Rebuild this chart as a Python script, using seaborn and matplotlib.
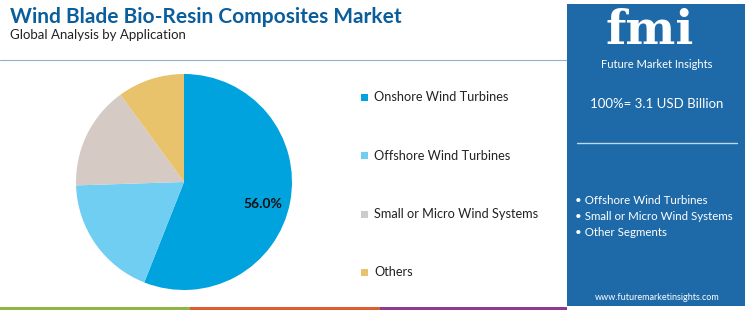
import matplotlib
matplotlib.use('Agg')
import matplotlib.pyplot as plt
import seaborn as sns
from matplotlib.patches import Rectangle

# Data
segments = ['Onshore Wind Turbines', 'Offshore Wind Turbines', 'Small or Micro Wind Systems', 'Others']
shares = [56.0, 18.5, 15.5, 10.0]
pie_colors = ['#00A3DE', '#6FCEF1', '#D6CAC4', '#E8C36C']
legend_colors = ['#00A3DE', '#6FCEF1', '#CCCCCC', '#E8C36C']
side_bullets = ['Offshore Wind Turbines', 'Small or Micro Wind Systems', 'Other Segments']
market_total = '100%= 3.1 USD Billion'
stripe_colors = ['#8DB645', '#DA5E2F', '#8E3A8F']

sns.set_theme(style='white')
plt.rcParams['font.family'] = ['Lato', 'DejaVu Sans']

fig = plt.figure(figsize=(7.5, 3.1), dpi=100)
W, H = 750, 310

def fx(x):
    return x / W

def fy(y):
    return 1 - y / H

# title block
fig.text(fx(10), fy(17), 'Wind Blade Bio-Resin Composites Market', fontsize=15,
         fontweight='bold', color='#0B5E9C', va='center', ha='left')
fig.text(fx(10), fy(35), 'Global Analysis by Application', fontsize=9.5,
         color='#222222', va='center', ha='left')
fig.add_artist(plt.Line2D([0, fx(567)], [fy(60), fy(60)], color='#3D7FB3', lw=0.8, alpha=0.6))

# bottom colour stripes
bounds = [0, 190, 380, 567]
for i, c in enumerate(stripe_colors):
    fig.add_artist(Rectangle((fx(bounds[i]), 0), fx(bounds[i + 1] - bounds[i]), 3 / H,
                             color=c, lw=0))

# right panel
fig.add_artist(Rectangle((fx(567), fy(306)), fx(178), (306 - 4) / H, color='#1E6AA8', lw=0))
# logo
fig.text(fx(650), fy(31), 'fmi', fontsize=34, fontweight='bold', family='DejaVu Serif',
         color='white', ha='center', va='center')
for yy in range(15, 50, 5):
    fig.add_artist(plt.Line2D([fx(595), fx(720)], [fy(yy), fy(yy)], color='#1E6AA8', lw=1.2))
fig.text(fx(657), fy(64), 'Future Market Insights', fontsize=8, color='white',
         ha='center', va='center')
fig.text(fx(657), fy(104), market_total, fontsize=9.5, color='white', ha='center', va='center')
fig.add_artist(plt.Line2D([fx(577), fx(737)], [fy(143), fy(143)], color='#BFD8EC', lw=1))
for i, b in enumerate(side_bullets):
    fig.text(fx(575), fy(200 + i * 16), '\u2022 ' + b, fontsize=8.3, color='white',
             ha='left', va='center')
fig.text(fx(657), fy(297), 'www.futuremarketinsights.com', fontsize=6.5, color='white',
         ha='center', va='center')

# pie
ax = fig.add_axes([fx(76), fy(290), fx(216), 216 / H])
wedges, _ = ax.pie(shares, colors=pie_colors, startangle=90, counterclock=False,
                   wedgeprops=dict(linewidth=0))
ax.set_xlim(-1, 1)
ax.set_ylim(-1, 1)
ax.set_aspect('equal')
ax.text(0.73, -0.2, f'{shares[0]:.1f}%', fontsize=10, fontweight='bold',
        color='#111111', ha='center', va='center')

# legend
for i, (name, c) in enumerate(zip(segments, legend_colors)):
    y = 97 + i * 58.5
    fig.add_artist(Rectangle((fx(361), fy(y + 3.5)), fx(7), 7 / H, color=c, lw=0))
    fig.text(fx(374), fy(y), name, fontsize=9.2, color='#222222', ha='left', va='center')

fig.savefig('out.png', dpi=100)
